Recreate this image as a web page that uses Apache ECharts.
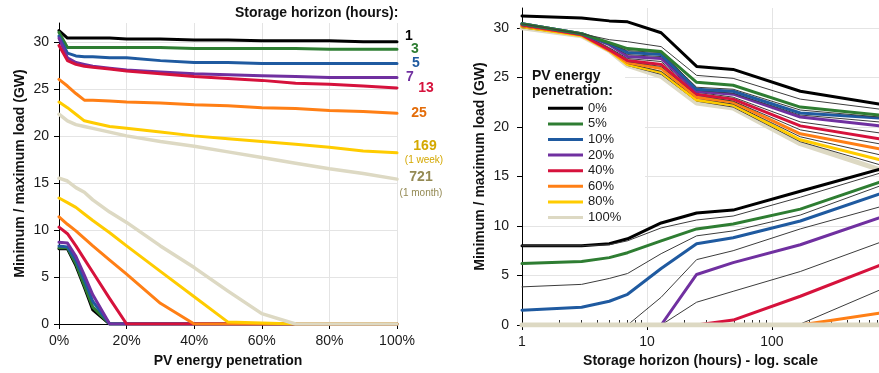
<!DOCTYPE html>
<html><head><meta charset="utf-8">
<script src="https://cdn.jsdelivr.net/npm/echarts@6.0.0/dist/echarts.min.js"></script>
<style>html,body{margin:0;padding:0;background:#fff}#c{width:879px;height:373px}</style>
</head><body><div id="c"></div>
<script>
// ---------- LEFT CHART: x = PV energy penetration (%) ----------
const pvLevels = [0, 2.5, 5, 7.5, 10, 15, 20, 30, 40, 50, 60, 70, 80, 90, 100];
const xTicksLeft = [0, 20, 40, 60, 80, 100];
const yTicks = [0, 5, 10, 15, 20, 25, 30];

// maximum load per storage horizon (hours)
const lMax1   = [31.2, 30.4, 30.4, 30.4, 30.4, 30.4, 30.3, 30.3, 30.2, 30.2, 30.1, 30.1, 30.1, 30.0, 30.0];
const lMax3   = [31.0, 29.4, 29.4, 29.4, 29.4, 29.4, 29.4, 29.4, 29.3, 29.3, 29.3, 29.3, 29.2, 29.2, 29.2];
const lMax5   = [30.6, 28.8, 28.5, 28.4, 28.4, 28.3, 28.3, 28.0, 27.8, 27.8, 27.7, 27.7, 27.7, 27.7, 27.7];
const lMax7   = [30.4, 28.3, 27.8, 27.6, 27.4, 27.2, 27.0, 26.8, 26.6, 26.5, 26.4, 26.3, 26.2, 26.2, 26.2];
const lMax13  = [29.6, 28.0, 27.6, 27.4, 27.3, 27.1, 26.9, 26.6, 26.3, 26.1, 25.9, 25.6, 25.5, 25.3, 25.1];
const lMax25  = [26.0, 25.3, 24.5, 23.8, 23.8, 23.7, 23.6, 23.5, 23.3, 23.2, 23.0, 22.9, 22.7, 22.6, 22.4];
const lMax169 = [23.6, 23.0, 22.3, 21.6, 21.4, 21.0, 20.8, 20.4, 20.0, 19.7, 19.4, 19.1, 18.8, 18.4, 18.2];
const lMax721 = [22.3, 21.6, 21.2, 21.0, 20.8, 20.4, 20.0, 19.4, 18.9, 18.3, 17.7, 17.1, 16.5, 16.0, 15.4];
// minimum load per storage horizon (hours)
const lMin1   = [8.0, 8.0, 6.2, 3.9, 1.5, 0, 0, 0, 0, 0, 0, 0, 0, 0, 0];
const lMin3   = [8.1, 8.1, 6.4, 4.1, 1.8, 0, 0, 0, 0, 0, 0, 0, 0, 0, 0];
const lMin5   = [8.3, 8.2, 6.8, 4.7, 2.4, 0, 0, 0, 0, 0, 0, 0, 0, 0, 0];
const lMin7   = [8.7, 8.6, 7.2, 5.2, 3.1, 0, 0, 0, 0, 0, 0, 0, 0, 0, 0];
const lMin13  = [10.3, 9.6, 8.3, 6.9, 5.5, 2.7, 0, 0, 0, 0, 0, 0, 0, 0, 0];
const lMin25  = [11.4, 10.6, 9.9, 9.1, 8.3, 6.8, 5.3, 2.2, 0, 0, 0, 0, 0, 0, 0];
const lMin169 = [13.4, 12.9, 12.4, 11.7, 11.0, 9.7, 8.3, 5.6, 2.9, 0.2, 0.1, 0, 0, 0, 0];
const lMin721 = [15.5, 15.2, 14.5, 14.0, 13.2, 11.9, 10.8, 8.3, 6.0, 3.5, 1.1, 0, 0, 0, 0];

// ---------- RIGHT CHART: x = storage horizon (hours), log scale ----------
const horizons = [1, 3, 5, 7, 13, 25, 49, 169, 721];
const xTicksRight = [1, 10, 100];
const xMinorTicksRight = [2, 3, 4, 5, 6, 7, 8, 9, 20, 30, 40, 50, 60, 70, 80, 90, 200, 300, 400, 500, 600, 700];

const rMax0   = [31.2, 31.0, 30.7, 30.6, 29.5, 26.1, 25.8, 23.6, 22.3];
const rMax2_5 = [30.4, 29.4, 28.8, 28.6, 28.1, 25.2, 24.9, 22.8, 21.8];
const rMax5   = [30.4, 29.4, 28.5, 27.9, 27.6, 24.5, 24.2, 22.0, 21.2];
const rMax7_5 = [30.4, 29.4, 28.4, 27.7, 27.5, 24.0, 23.8, 21.7, 21.0];
const rMax10  = [30.4, 29.4, 28.4, 27.5, 27.3, 23.8, 23.6, 21.4, 20.9];
const rMax15  = [30.4, 29.4, 28.3, 27.3, 27.1, 23.7, 23.4, 21.2, 20.5];
const rMax20  = [30.4, 29.4, 28.3, 27.1, 26.9, 23.6, 23.3, 21.0, 20.1];
const rMax30  = [30.3, 29.4, 28.0, 26.9, 26.6, 23.5, 23.0, 20.5, 19.4];
const rMax40  = [30.3, 29.3, 27.8, 26.7, 26.3, 23.3, 22.8, 20.1, 18.8];
const rMax50  = [30.2, 29.3, 27.8, 26.6, 26.1, 23.2, 22.6, 19.7, 18.3];
const rMax60  = [30.2, 29.3, 27.7, 26.5, 25.9, 23.0, 22.5, 19.3, 17.8];
const rMax70  = [30.1, 29.3, 27.7, 26.4, 25.6, 22.9, 22.3, 19.0, 17.2];
const rMax80  = [30.1, 29.2, 27.7, 26.3, 25.5, 22.7, 22.2, 18.7, 16.7];
const rMax90  = [30.0, 29.2, 27.7, 26.2, 25.3, 22.6, 22.0, 18.5, 16.2];
const rMax100 = [30.0, 29.2, 27.7, 26.2, 25.1, 22.4, 21.9, 18.3, 15.7];

const rMin0   = [8.0, 8.0, 8.2, 8.7, 10.3, 11.3, 11.6, 13.5, 15.7];
const rMin2_5 = [8.0, 8.0, 8.1, 8.5, 9.8, 10.6, 11.0, 12.9, 15.3];
const rMin5   = [6.2, 6.4, 6.8, 7.3, 8.5, 9.7, 10.2, 11.7, 14.4];
const rMin7_5 = [3.85, 4.1, 4.7, 5.2, 7.2, 9.0, 9.5, 11.1, 14.0];
const rMin10  = [1.5, 1.8, 2.4, 3.1, 5.7, 8.2, 8.8, 10.5, 13.2];
const rMin15  = [0, 0, 0, 0, 2.8, 6.6, 7.5, 9.7, 11.9];
const rMin20  = [0, 0, 0, 0, 0, 5.1, 6.3, 8.1, 10.8];
const rMin30  = [0, 0, 0, 0, 0, 2.3, 3.4, 5.4, 8.3];
const rMin40  = [0, 0, 0, 0, 0, 0, 0.5, 2.9, 6.0];
const rMin50  = [0, 0, 0, 0, 0, 0, 0, 0.1, 3.5];
const rMin60  = [0, 0, 0, 0, 0, 0, 0, 0, 1.2];
const rMin70  = [0, 0, 0, 0, 0, 0, 0, 0, 0];
const rMin80  = [0, 0, 0, 0, 0, 0, 0, 0, 0];
const rMin90  = [0, 0, 0, 0, 0, 0, 0, 0, 0];
const rMin100 = [0, 0, 0, 0, 0, 0, 0, 0, 0];

const legendNames = ['0%', '5%', '10%', '20%', '40%', '60%', '80%', '100%'];

// ---------- styles ----------
const F = "'Liberation Sans', Arial, sans-serif";
const TXT = '#1a1a1a';
const GRIDC = '#e4e4e4';
const C = {
  black: '#000000', green: '#2E7D32', blue: '#1F5AA0', purple: '#7030A0',
  red: '#D6123C', orange: '#FF7F15', yellow: '#FFCC00', beige: '#DDD9C3', thin: '#3c3c3c'
};

const leftDefs = [
  {h: '1',   max: lMax1,   min: lMin1,   color: C.black,  w: 3,   lc: '#000000'},
  {h: '3',   max: lMax3,   min: lMin3,   color: C.green,  w: 3,   lc: '#2E7D32'},
  {h: '5',   max: lMax5,   min: lMin5,   color: C.blue,   w: 3,   lc: '#1F5AA0'},
  {h: '7',   max: lMax7,   min: lMin7,   color: C.purple, w: 3,   lc: '#7030A0'},
  {h: '13',  max: lMax13,  min: lMin13,  color: C.red,    w: 3,   lc: '#D6123C'},
  {h: '25',  max: lMax25,  min: lMin25,  color: C.orange, w: 3,   lc: '#E36C09'},
  {h: '169', max: lMax169, min: lMin169, color: C.yellow, w: 3,   lc: '#D4A800'},
  {h: '721', max: lMax721, min: lMin721, color: C.beige,  w: 3.5, lc: '#948A54'}
];

const rightDefs = [
  {pv: '0%',   max: rMax0,   min: rMin0,   color: C.black,  w: 3},
  {pv: '2.5%', max: rMax2_5, min: rMin2_5, color: C.thin,   w: 1},
  {pv: '5%',   max: rMax5,   min: rMin5,   color: C.green,  w: 3},
  {pv: '7.5%', max: rMax7_5, min: rMin7_5, color: C.thin,   w: 1},
  {pv: '10%',  max: rMax10,  min: rMin10,  color: C.blue,   w: 3},
  {pv: '15%',  max: rMax15,  min: rMin15,  color: C.thin,   w: 1},
  {pv: '20%',  max: rMax20,  min: rMin20,  color: C.purple, w: 3},
  {pv: '30%',  max: rMax30,  min: rMin30,  color: C.thin,   w: 1},
  {pv: '40%',  max: rMax40,  min: rMin40,  color: C.red,    w: 3},
  {pv: '50%',  max: rMax50,  min: rMin50,  color: C.thin,   w: 1},
  {pv: '60%',  max: rMax60,  min: rMin60,  color: C.orange, w: 3},
  {pv: '70%',  max: rMax70,  min: rMin70,  color: C.thin,   w: 1},
  {pv: '80%',  max: rMax80,  min: rMin80,  color: C.yellow, w: 3},
  {pv: '90%',  max: rMax90,  min: rMin90,  color: C.thin,   w: 1},
  {pv: '100%', max: rMax100, min: rMin100, color: C.beige,  w: 5}
];

function lineSeries(name, data, color, width, xi, yi) {
  return {
    type: 'line', name: name, data: data, xAxisIndex: xi, yAxisIndex: yi,
    symbol: 'none', showSymbol: false, silent: true, animation: false,
    lineStyle: {color: color, width: width, cap: 'round', join: 'round'},
    itemStyle: {color: color}, emphasis: {disabled: true}
  };
}

const series = [];
leftDefs.forEach(d => series.push(lineSeries('max ' + d.h + 'h', pvLevels.map((p, i) => [p, d.max[i]]), d.color, d.w, 0, 0)));
leftDefs.forEach(d => series.push(lineSeries('min ' + d.h + 'h', pvLevels.map((p, i) => [p, d.min[i]]), d.color, d.w, 0, 0)));
rightDefs.slice().reverse().forEach(d => series.push(lineSeries(d.pv, horizons.map((h, i) => [h, d.max[i]]), d.color, d.w, 1, 1)));
rightDefs.forEach(d => series.push(lineSeries(d.pv, horizons.map((h, i) => [h, d.min[i]]), d.color, d.w, 1, 1)));

const axisLabelStyle = {fontSize: 14, color: TXT, fontFamily: F};
const nameStyle = {fontSize: 14, fontWeight: 'bold', color: '#111', fontFamily: F};

const option = {
  animation: false,
  backgroundColor: '#ffffff',
  textStyle: {fontFamily: F},
  grid: [
    {left: 59, right: 482, top: 23, bottom: 45},
    {left: 522, right: 0, top: 8, bottom: 48}
  ],
  xAxis: [
    {gridIndex: 0, type: 'value', min: 0, max: 100, interval: 20,
     axisLine: {show: true, onZero: false, lineStyle: {color: '#000', width: 1}},
     axisTick: {show: true, length: 5, lineStyle: {color: '#000'}, customValues: xTicksLeft},
     axisLabel: Object.assign({formatter: '{value}%', margin: 10, customValues: xTicksLeft}, axisLabelStyle),
     splitLine: {show: true, lineStyle: {color: GRIDC, width: 1}},
     name: 'PV energy penetration', nameLocation: 'middle', nameGap: 30, nameTextStyle: nameStyle},
    {gridIndex: 1, type: 'log', logBase: 10, min: 1, max: 721, position: 'bottom',
     axisLine: {show: true, onZero: false, lineStyle: {color: '#000', width: 1}},
     axisTick: {show: true, length: 5, lineStyle: {color: '#000'}, customValues: xTicksRight},
     axisLabel: Object.assign({margin: 10, customValues: xTicksRight}, axisLabelStyle),
     splitLine: {show: true, lineStyle: {color: GRIDC, width: 1}},
     minorTick: {show: false},
     name: 'Storage horizon (hours) - log. scale', nameLocation: 'middle', nameGap: 29, nameTextStyle: nameStyle},
    {gridIndex: 1, type: 'log', logBase: 10, min: 1, max: 721, position: 'bottom',
     axisLine: {show: false}, axisLabel: {show: false}, splitLine: {show: false},
     axisTick: {show: true, inside: true, length: 5, lineStyle: {color: '#333'}, customValues: xMinorTicksRight}}
  ],
  yAxis: [
    {gridIndex: 0, type: 'value', min: 0, max: 32,
     axisLine: {show: true, lineStyle: {color: '#000', width: 1}},
     axisTick: {show: true, length: 5, lineStyle: {color: '#000'}, customValues: yTicks},
     axisLabel: Object.assign({margin: 10, customValues: yTicks}, axisLabelStyle),
     splitLine: {show: true, lineStyle: {color: GRIDC, width: 1}},
     name: 'Minimum / maximum load (GW)', nameLocation: 'middle', nameGap: 32, nameTextStyle: nameStyle},
    {gridIndex: 1, type: 'value', min: 0, max: 32,
     axisLine: {show: true, lineStyle: {color: '#000', width: 1}},
     axisTick: {show: true, length: 5, lineStyle: {color: '#000'}, customValues: yTicks},
     axisLabel: Object.assign({margin: 13, customValues: yTicks}, axisLabelStyle),
     splitLine: {show: true, lineStyle: {color: GRIDC, width: 1}},
     name: 'Minimum / maximum load (GW)', nameLocation: 'middle', nameGap: 35, nameTextStyle: nameStyle}
  ],
  legend: {
    data: legendNames, orient: 'vertical', left: 548, top: 100.5, padding: 0,
    itemWidth: 35, itemHeight: 3, itemGap: 0, icon: 'rect', selectedMode: false, z: 8,
    textStyle: {fontSize: 13, color: TXT, fontFamily: F, lineHeight: 15.6}
  },
  series: series
};

const chart = echarts.init(document.getElementById('c'), null, {renderer: 'canvas'});
chart.setOption(option);

// annotations attached to the end of each left-chart maximum line
const labelOffsets = {
  '1':   [12, -5.4], '3': [18, 0.3], '5': [19, 0], '7': [13, 0],
  '13':  [29, 0], '25': [22, -0.5], '169': [28, -7], '721': [24, -2]
};
const gfx = [
  {type: 'rect', z: 3, shape: {x: 523, y: 66, width: 102, height: 22}, style: {fill: '#fff'}},
  {type: 'rect', z: 3, shape: {x: 523, y: 86, width: 122, height: 138}, style: {fill: '#fff'}},
  {type: 'text', z: 9, x: 532, y: 68.5,
   style: {text: 'PV energy\npenetration:', font: "bold 14px 'Liberation Sans', Arial", lineHeight: 15, fill: '#111'}},
  {type: 'text', z: 9, x: 235, y: 6,
   style: {text: 'Storage horizon (hours):', font: "bold 14px 'Liberation Sans', Arial", fill: '#111'}}
];
leftDefs.forEach(d => {
  const last = d.max.length - 1;
  const pt = chart.convertToPixel({xAxisIndex: 0, yAxisIndex: 0}, [pvLevels[last], d.max[last]]);
  const off = labelOffsets[d.h];
  gfx.push({type: 'text', z: 9, x: pt[0] + off[0], y: pt[1] + off[1],
    style: {text: d.h, font: "bold 14px 'Liberation Sans', Arial", fill: d.lc,
            align: 'center', verticalAlign: 'middle', textAlign: 'center', textVerticalAlign: 'middle'}});
  if (d.h === '169' || d.h === '721') {
    const sub = d.h === '169' ? '(1 week)' : '(1 month)';
    const dy = d.h === '169' ? 7.5 : 14;
    const dx = d.h === '169' ? 27 : 24;
    gfx.push({type: 'text', z: 9, x: pt[0] + dx, y: pt[1] + dy,
      style: {text: sub, font: "10px 'Liberation Sans', Arial", fill: d.lc,
              align: 'center', verticalAlign: 'middle', textAlign: 'center', textVerticalAlign: 'middle'}});
  }
});
chart.setOption({graphic: {elements: gfx}});
</script>
</body></html>
